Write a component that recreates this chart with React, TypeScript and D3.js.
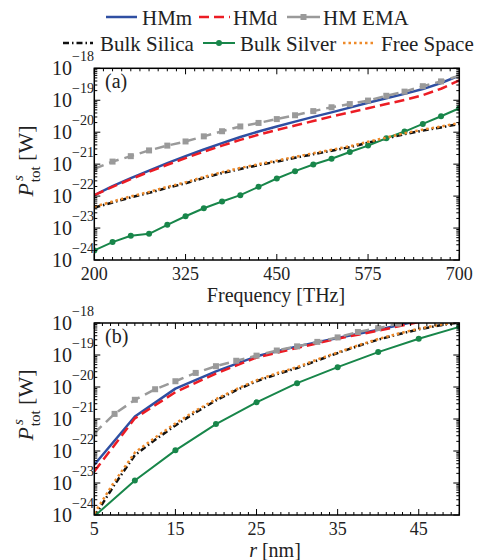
import React from "react";
import * as d3 from "d3";

// ---------- DATA (log10 of power in W) ----------
const freqTHz = [200, 225, 250, 275, 300, 325, 350, 375, 400, 425, 450, 475, 500, 525, 550, 575, 600, 625, 650, 675, 700];
const aHMm = [-21.97, -21.69, -21.44, -21.2, -20.97, -20.75, -20.54, -20.34, -20.15, -19.98, -19.82, -19.67, -19.52, -19.38, -19.23, -19.08, -18.94, -18.8, -18.65, -18.46, -18.23];
const aHMd = [-21.97, -21.71, -21.47, -21.24, -21.02, -20.81, -20.61, -20.42, -20.24, -20.08, -19.93, -19.79, -19.65, -19.51, -19.38, -19.25, -19.12, -18.99, -18.84, -18.64, -18.38];
const aEMA = [-21.15, -20.92, -20.75, -20.57, -20.42, -20.29, -20.13, -19.97, -19.82, -19.71, -19.59, -19.47, -19.34, -19.22, -19.12, -19.01, -18.86, -18.73, -18.56, -18.41, -18.23];
const aSilica = [-22.36, -22.2, -22.04, -21.9, -21.74, -21.6, -21.43, -21.28, -21.15, -21.03, -20.92, -20.8, -20.69, -20.58, -20.47, -20.33, -20.2, -20.06, -19.95, -19.85, -19.74];
const aSilver = [-23.7, -23.44, -23.24, -23.18, -22.9, -22.63, -22.38, -22.17, -21.97, -21.71, -21.45, -21.22, -21.01, -20.83, -20.62, -20.42, -20.19, -19.98, -19.74, -19.5, -19.25];
const aFree = [-22.33, -22.17, -22.01, -21.87, -21.71, -21.57, -21.4, -21.25, -21.12, -21.0, -20.89, -20.77, -20.66, -20.55, -20.44, -20.3, -20.17, -20.03, -19.92, -19.82, -19.71];

const rCoarse = [5, 10, 15, 20, 25, 30, 35, 40, 45, 50];
const rFine = [5, 7.5, 10, 12.5, 15, 17.5, 20, 22.5, 25, 27.5, 30, 32.5, 35, 37.5, 40, 42.5, 45, 47.5, 50];
const bHMm = [-22.43, -20.92, -20.05, -19.51, -19.04, -18.73, -18.47, -18.21, -17.93, -17.65];
const bHMd = [-22.64, -20.98, -20.16, -19.58, -19.08, -18.78, -18.49, -18.24, -17.97, -17.7];
const bEMA = [-21.44, -20.84, -20.4, -20.07, -19.82, -19.56, -19.35, -19.18, -19.02, -18.86, -18.73, -18.59, -18.45, -18.28, -18.16, -18.02, -17.9, -17.78, -17.66];
const bSilica = [-24.05, -23.05, -22.13, -21.65, -21.2, -20.79, -20.42, -20.1, -19.82, -19.6, -19.41, -19.17, -18.94, -18.72, -18.52, -18.35, -18.2, -18.08, -17.98];
const bFree = [-23.95, -22.95, -22.05, -21.58, -21.14, -20.74, -20.38, -20.07, -19.79, -19.57, -19.38, -19.14, -18.92, -18.7, -18.5, -18.33, -18.18, -18.06, -17.96];
const bSilver = [-24.04, -22.92, -21.98, -21.16, -20.48, -19.88, -19.38, -18.91, -18.49, -18.12];

const freqTicks = [200, 325, 450, 575, 700];
const rTicks = [5, 15, 25, 35, 45];
const decadeExps = [-24, -23, -22, -21, -20, -19, -18];

// ---------- STYLE ----------
const FONT = "'Liberation Serif', 'Times New Roman', Times, Tinos, 'Noto Serif', 'DejaVu Serif', FreeSerif, serif";
const C = {
  HMm: "#2F4FA2",
  HMd: "#EC1C24",
  EMA: "#9A9A9A",
  silica: "#111111",
  silver: "#18864A",
  free: "#EE8A2A",
};

type Series = { x: number[]; y: number[]; color: string; dash?: string; width: number; marker?: "square" | "circle" };

const X0 = 94.3, X1 = 459.3;

function Panel({ top, bottom, xDomain, xTicks, minorStep, series, label, xTitle, ylabelY, id }: any) {
  const x = d3.scaleLinear().domain(xDomain).range([X0, X1]);
  const y = d3.scaleLog().domain([1e-24, 1e-18]).range([bottom, top]);
  const line = (s: Series) =>
    d3.line<number>().x((_, i) => x(s.x[i])).y((v) => y(Math.pow(10, v)))(s.y) || "";
  const minorX = d3.range(xDomain[0], xDomain[1] + 1e-9, minorStep).filter((v) => !xTicks.includes(v));
  const minorY: number[] = [];
  for (let e = -24; e < -18; e++) for (let k = 2; k <= 9; k++) minorY.push(k * Math.pow(10, e));
  const clip = `clip-${id}`;
  return (
    <g>
      <defs>
        <clipPath id={clip}>
          <rect x={X0} y={top} width={X1 - X0} height={bottom - top} />
        </clipPath>
      </defs>
      <g clipPath={`url(#${clip})`}>
        {series.map((s: Series, i: number) => (
          <g key={i}>
            <path d={line(s)} fill="none" stroke={s.color} strokeWidth={s.width} strokeDasharray={s.dash} strokeLinejoin="round" />
            {s.marker === "square" &&
              s.x.map((xv, j) => (
                <rect key={j} x={x(xv) - 3} y={y(Math.pow(10, s.y[j])) - 3} width={6} height={6} fill={s.color} />
              ))}
            {s.marker === "circle" &&
              s.x.map((xv, j) => <circle key={j} cx={x(xv)} cy={y(Math.pow(10, s.y[j]))} r={3} fill={s.color} />)}
          </g>
        ))}
      </g>
      <g stroke="#000" strokeWidth={1}>
        {xTicks.map((t: number) => (
          <g key={"xt" + t}>
            <line x1={x(t)} x2={x(t)} y1={bottom} y2={bottom - 6} />
            <line x1={x(t)} x2={x(t)} y1={top} y2={top + 6} />
          </g>
        ))}
        {minorX.map((t: number) => (
          <g key={"xm" + t}>
            <line x1={x(t)} x2={x(t)} y1={bottom} y2={bottom - 3} />
            <line x1={x(t)} x2={x(t)} y1={top} y2={top + 3} />
          </g>
        ))}
        {decadeExps.map((e) => (
          <g key={"yt" + e}>
            <line x1={X0} x2={X0 + 6} y1={y(Math.pow(10, e))} y2={y(Math.pow(10, e))} />
            <line x1={X1} x2={X1 - 6} y1={y(Math.pow(10, e))} y2={y(Math.pow(10, e))} />
          </g>
        ))}
        {minorY.map((v, i) => (
          <g key={"ym" + i}>
            <line x1={X0} x2={X0 + 3} y1={y(v)} y2={y(v)} />
            <line x1={X1} x2={X1 - 3} y1={y(v)} y2={y(v)} />
          </g>
        ))}
      </g>
      <rect x={X0} y={top} width={X1 - X0} height={bottom - top} fill="none" stroke="#000" strokeWidth={1.5} />
      <g fontFamily={FONT} fill="#222">
        {xTicks.map((t: number) => (
          <text key={"xl" + t} x={x(t)} y={bottom + 20} fontSize={18} textAnchor="middle">
            {t}
          </text>
        ))}
        {decadeExps.map((e) => (
          <g key={"yl" + e}>
            <text x={72} y={y(Math.pow(10, e)) + 7} fontSize={20} textAnchor="end">10</text>
            <text x={72} y={y(Math.pow(10, e)) - 7} fontSize={14} textAnchor="start">{"\u2212" + Math.abs(e)}</text>
          </g>
        ))}
        <text x={105} y={top + 20} fontSize={20}>{label}</text>
        {xTitle}
        <text transform={`translate(33,${ylabelY}) rotate(-90)`} fontSize={22} textAnchor="middle">
          <tspan fontStyle="italic">P</tspan>
          <tspan fontStyle="italic" fontSize={15} dx={2} dy={-10}>s</tspan>
          <tspan fontSize={15} dx={-7} dy={17}>tot</tspan>
          <tspan dy={-7}> [W]</tspan>
        </text>
      </g>
    </g>
  );
}

function LegendItem({ x1, x2, y, color, dash, width, marker, text, tx }: any) {
  const mx = (x1 + x2) / 2;
  return (
    <g>
      <line x1={x1} x2={x2} y1={y} y2={y} stroke={color} strokeWidth={width} strokeDasharray={dash} />
      {marker === "square" && <rect x={mx - 3} y={y - 3} width={6} height={6} fill={color} />}
      {marker === "circle" && <circle cx={mx} cy={y} r={3} fill={color} />}
      <text x={tx} y={y + 7.5} fontSize={21} fontFamily={FONT} fill="#222">
        {text}
      </text>
    </g>
  );
}

export default function App() {
  const seriesA: Series[] = [
    { x: freqTHz, y: aHMm, color: C.HMm, width: 2.5 },
    { x: freqTHz, y: aHMd, color: C.HMd, dash: "10 5", width: 2.5 },
    { x: freqTHz, y: aEMA, color: C.EMA, dash: "10 6", width: 2.5, marker: "square" },
    { x: freqTHz, y: aSilica, color: C.silica, dash: "6 3 1.5 3", width: 2.5 },
    { x: freqTHz, y: aSilver, color: C.silver, width: 2, marker: "circle" },
    { x: freqTHz, y: aFree, color: C.free, dash: "2.5 3", width: 2.5 },
  ];
  const seriesB: Series[] = [
    { x: rCoarse, y: bHMm, color: C.HMm, width: 2.5 },
    { x: rCoarse, y: bHMd, color: C.HMd, dash: "10 5", width: 2.5 },
    { x: rFine, y: bEMA, color: C.EMA, dash: "10 6", width: 2.5, marker: "square" },
    { x: rFine, y: bSilica, color: C.silica, dash: "6 3 1.5 3", width: 2.5 },
    { x: rCoarse, y: bSilver, color: C.silver, width: 2, marker: "circle" },
    { x: rFine, y: bFree, color: C.free, dash: "2.5 3", width: 2.5 },
  ];
  return (
    <svg width={477} height={560} style={{ position: "absolute", left: 0, top: 0, background: "#fff" }}>
      <rect width={477} height={560} fill="#fff" />
      <LegendItem x1={106} x2={137} y={17} color={C.HMm} width={2.5} text="HMm" tx={142} />
      <LegendItem x1={199} x2={230} y={17} color={C.HMd} width={2.5} dash="10 5" text="HMd" tx={233} />
      <LegendItem x1={287} x2={320} y={17} color={C.EMA} width={2.5} marker="square" text="HM EMA" tx={323} />
      <LegendItem x1={63} x2={93} y={43} color={C.silica} width={2.5} dash="6 3 1.5 3" text="Bulk Silica" tx={100} />
      <LegendItem x1={203} x2={235} y={43} color={C.silver} width={2} marker="circle" text="Bulk Silver" tx={240} />
      <LegendItem x1={343} x2={375} y={43} color={C.free} width={2.5} dash="2.5 3" text="Free Space" tx={381} />
      <Panel
        id="a"
        top={68.3}
        bottom={260}
        xDomain={[200, 700]}
        xTicks={freqTicks}
        minorStep={12.5}
        series={seriesA}
        label="(a)"
        ylabelY={161}
        xTitle={
          <text x={276} y={302} fontSize={20} textAnchor="middle">
            Frequency [THz]
          </text>
        }
      />
      <Panel
        id="b"
        top={323}
        bottom={515}
        xDomain={[5, 50]}
        xTicks={rTicks}
        minorStep={1}
        series={seriesB}
        label="(b)"
        ylabelY={405}
        xTitle={
          <text x={275} y={557} fontSize={20} textAnchor="middle">
            <tspan fontStyle="italic">r</tspan> [nm]
          </text>
        }
      />
    </svg>
  );
}
